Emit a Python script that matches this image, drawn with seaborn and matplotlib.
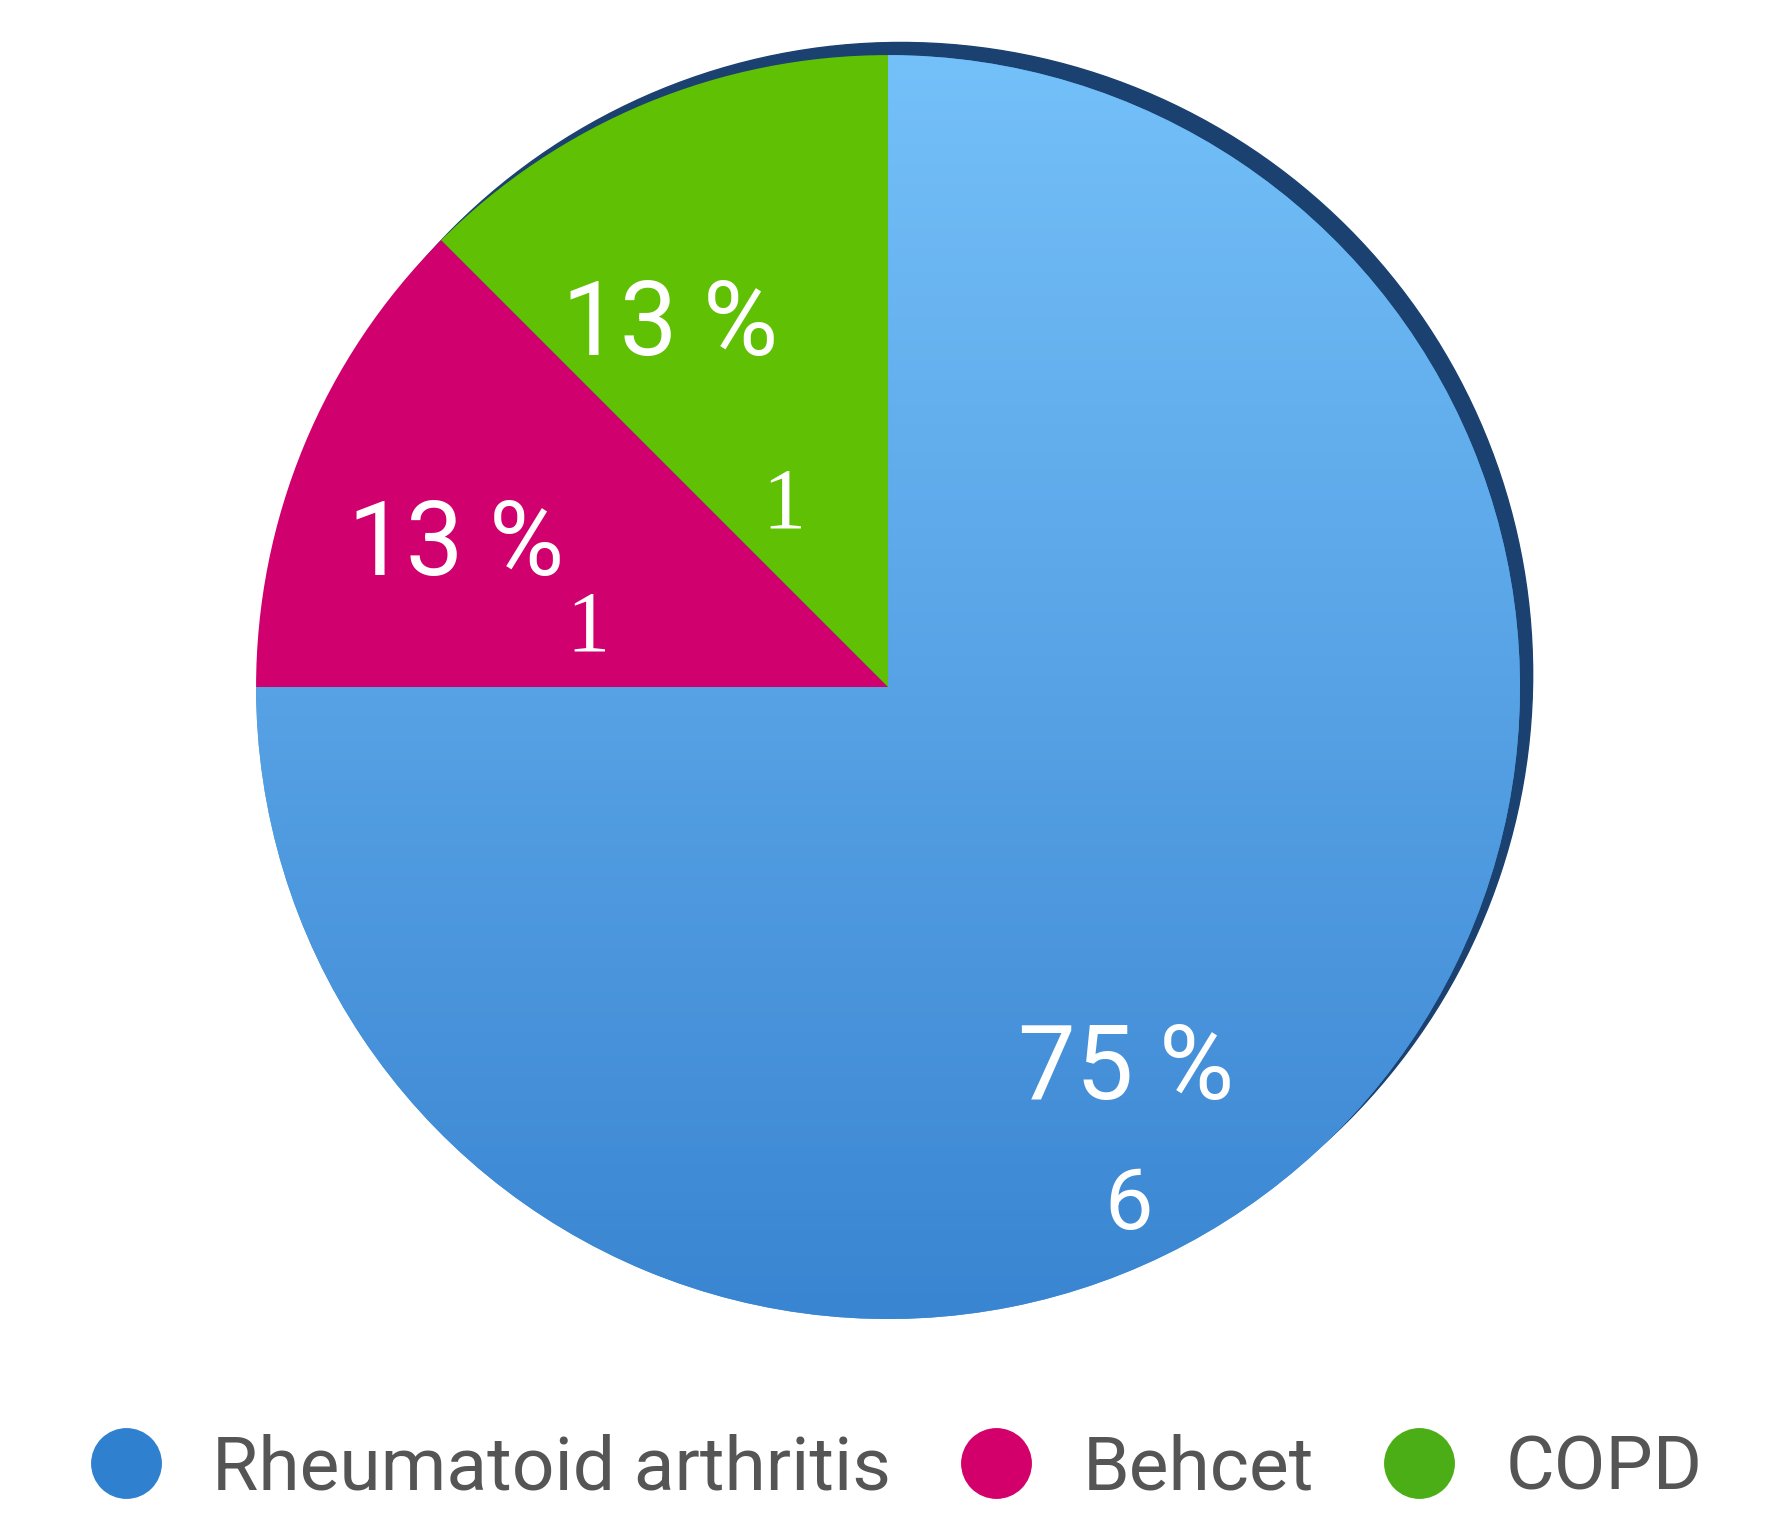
import numpy as np
import matplotlib
matplotlib.use('Agg')
import matplotlib.pyplot as plt
import seaborn as sns
from matplotlib.lines import Line2D
from matplotlib.patches import Circle
from matplotlib.colors import LinearSegmentedColormap

# data
diseases = ['Rheumatoid arthritis', 'Behcet', 'COPD']
patients = [6, 1, 1]

# styling
colors = ['#4597dd', '#d0006e', '#60c104']
legend_colors = ['#2f80cf', '#d3006c', '#4cae16']
# label positions (pie radius units)
pct_pos = [(0.377, -0.606), (-0.684, 0.223), (-0.345, 0.570)]
count_pos = [(0.380, -0.820), (-0.475, 0.090), (-0.165, 0.285)]
count_fonts = [['Roboto'], ['Liberation Serif'], ['Liberation Serif']]

sns.set_theme(style='white')
plt.rcParams['font.family'] = ['Roboto', 'DejaVu Sans']

fig = plt.figure(figsize=(17.66, 15.13), dpi=100)
ax = fig.add_axes([0.145, 0.1282, 0.7157, 0.8354])

# dark rim peeking out at the upper right
ax.add_patch(Circle((0.02, 0.02), 1.0, color='#1a4170', zorder=0, clip_on=False))

wedges, _, pct_texts = ax.pie(
    patients, colors=colors, startangle=90, counterclock=False,
    autopct=lambda p: f'{int(np.floor(p + 0.5))} %',
    textprops=dict(color='white', fontsize=74), wedgeprops=dict(linewidth=0))

# vertical gradient on the big blue slice
grad = np.linspace(0, 1, 256).reshape(-1, 1)
cmap = LinearSegmentedColormap.from_list('blue_grad', ['#74c0f9', '#3a85d1'])
im = ax.imshow(grad, extent=(-1, 1, -1, 1), origin='upper', cmap=cmap, aspect='auto', zorder=1.5)
im.set_clip_path(wedges[0])

for t, pos in zip(pct_texts, pct_pos):
    t.set_position(pos)
    t.set_zorder(3)

# counts under the percentages
for n, (x, y), fam in zip(patients, count_pos, count_fonts):
    ax.text(x, y, str(n), ha='center', va='center', color='white',
            fontsize=62, family=fam, zorder=3)

ax.set_xlim(-1, 1)
ax.set_ylim(-1, 1)
ax.set_aspect('equal')
ax.axis('off')

handles = [Line2D([], [], marker='o', linestyle='', markersize=50,
                  markerfacecolor=c, markeredgecolor=c) for c in legend_colors]
fig.legend(handles, diseases, loc='center', bbox_to_anchor=(0.507, 0.029), ncol=3,
           frameon=False, fontsize=54, labelcolor='#555555', handlelength=1.0,
           handletextpad=0.65, columnspacing=0.9)

fig.savefig('out.png', dpi=100, facecolor='white')
